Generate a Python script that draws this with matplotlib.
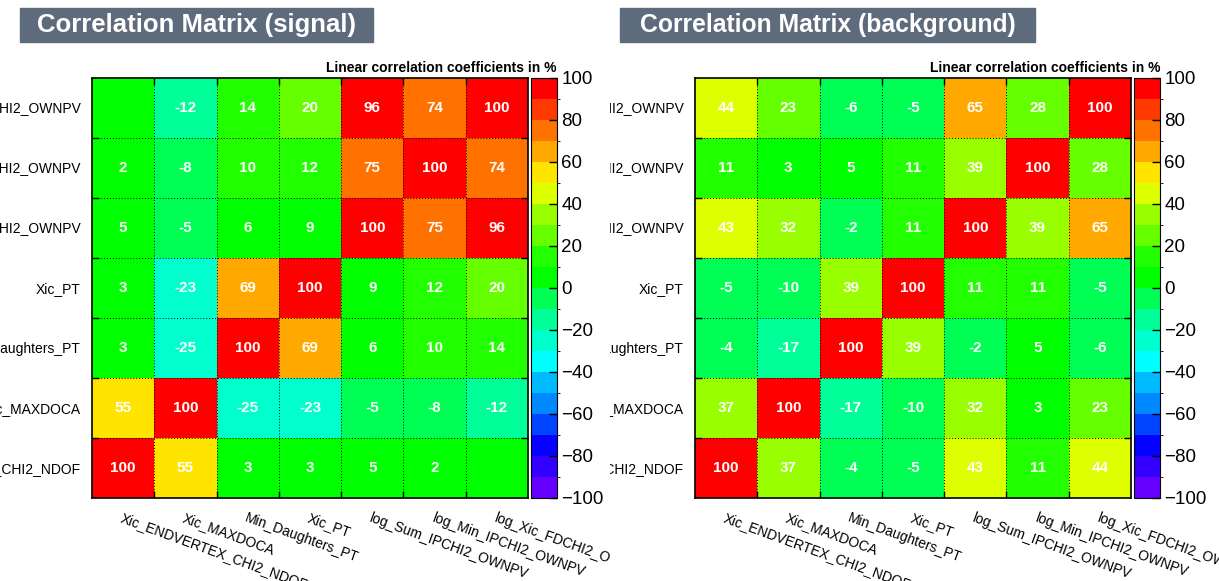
import numpy as np
import matplotlib
matplotlib.use("Agg")
from matplotlib import pyplot as plt
from matplotlib.colors import ListedColormap, BoundaryNorm
from matplotlib.patches import Rectangle
from matplotlib.transforms import Bbox, TransformedBbox

plt.rcParams['font.family'] = ['Liberation Sans', 'DejaVu Sans']

# variable names, index 0 is bottom row / left column
names = ['Xic_ENDVERTEX_CHI2_NDOF', 'Xic_MAXDOCA', 'Min_Daughters_PT', 'Xic_PT',
         'log_Sum_IPCHI2_OWNPV', 'log_Min_IPCHI2_OWNPV', 'log_Xic_FDCHI2_OWNPV']

# correlation in %, row i = variable i
corr_signal = [
    [100, 55, 3, 3, 5, 2, 0],
    [55, 100, -25, -23, -5, -8, -12],
    [3, -25, 100, 69, 6, 10, 14],
    [3, -23, 69, 100, 9, 12, 20],
    [5, -5, 6, 9, 100, 75, 96],
    [2, -8, 10, 12, 75, 100, 74],
    [0, -12, 14, 20, 96, 74, 100],
]
corr_background = [
    [100, 37, -4, -5, 43, 11, 44],
    [37, 100, -17, -10, 32, 3, 23],
    [-4, -17, 100, 39, -2, 5, -6],
    [-5, -10, 39, 100, 11, 11, -5],
    [43, 32, -2, 11, 100, 39, 65],
    [11, 3, 5, 11, 39, 100, 28],
    [44, 23, -6, -5, 65, 28, 100],
]
titles = ['Correlation Matrix (signal)', 'Correlation Matrix (background)']

# palette, from -100 up to +100 in steps of 10
palette = ['#6600ff', '#3300ff', '#0500ff', '#0044ff', '#0088ff', '#00bbff',
           '#00ffff', '#00ffcc', '#00ff99', '#00ff55', '#00ff00', '#22ff00',
           '#66ff00', '#99ff00', '#ddff00', '#ffe400', '#ffa800', '#ff7200',
           '#ff3a00', '#ff0000']
cmap = ListedColormap(palette)
norm = BoundaryNorm(np.arange(-100, 101, 10), cmap.N)

W, H = 1219, 581
fig = plt.figure(figsize=(W / 100, H / 100), dpi=100)

def px(x0, y0, w, h):
    # pixel box (top-left origin) -> figure fraction
    return [x0 / W, 1 - (y0 + h) / H, w / W, h / H]

panels = [
    dict(data=corr_signal, x=0, clip=(0, 610), tx=20, title_w=353, tsize=18.5),
    dict(data=corr_background, x=603, clip=(610, W), tx=620, title_w=415, tsize=17.8),
]

for p, title in zip(panels, titles):
    off = p['x']
    m = np.array(p['data'])
    ax = fig.add_axes(px(92 + off, 78, 436, 420))
    cax = fig.add_axes(px(531 + off, 78, 26, 420))

    im = ax.imshow(m, cmap=cmap, norm=norm, origin='lower', aspect='auto')
    for i in range(m.shape[0]):
        for j in range(m.shape[1]):
            if m[i, j] != 0:
                ax.text(j, i, str(m[i, j]), ha='center', va='center',
                        color='white', fontweight='bold', fontsize=11)

    ax.set_xticks(range(len(names)))
    ax.set_yticks(range(len(names)))
    ax.set_xticklabels(names, rotation=-20, ha='left', va='top',
                       rotation_mode='anchor', fontsize=10)
    ax.set_yticklabels(names, fontsize=10)
    ax.tick_params(which='major', length=0)
    ax.tick_params(axis='x', which='major', pad=9)
    ax.tick_params(axis='y', which='major', pad=8)
    ax.set_xticks(np.arange(0.5, 6.5, 1), minor=True)
    ax.set_yticks(np.arange(0.5, 6.5, 1), minor=True)
    ax.tick_params(which='minor', direction='in', length=5, width=1,
                   top=True, right=True)
    ax.grid(which='minor', color='black', linestyle=(0, (1, 2)), linewidth=0.7)
    for s in ax.spines.values():
        s.set_linewidth(1.2)

    # labels run off the edge of each half of the picture
    cb = TransformedBbox(Bbox.from_extents(p['clip'][0] / W, 0, p['clip'][1] / W, 1),
                         fig.transFigure)
    for lab in ax.get_xticklabels() + ax.get_yticklabels():
        lab.set_clip_box(cb)
        lab.set_clip_on(True)

    cbar = fig.colorbar(im, cax=cax, ticks=range(-100, 101, 20))
    cbar.ax.tick_params(direction='in', length=6, width=1, labelsize=13.5, pad=3)
    cbar.outline.set_linewidth(0.8)

    fig.text((557 + off) / W, 1 - 68 / H, 'Linear correlation coefficients in %',
             ha='right', va='center', fontweight='bold', fontsize=10)

    tx = p['tx']
    fig.patches.append(Rectangle((tx / W, 1 - 42 / H), p['title_w'] / W, 34 / H,
                                 transform=fig.transFigure, color='#5e6b7c'))
    fig.text((tx + p['title_w'] / 2) / W, 1 - 25 / H, title, ha='center',
             va='center', color='white', fontweight='bold', fontsize=p['tsize'])

fig.savefig('out.png', dpi=100)
